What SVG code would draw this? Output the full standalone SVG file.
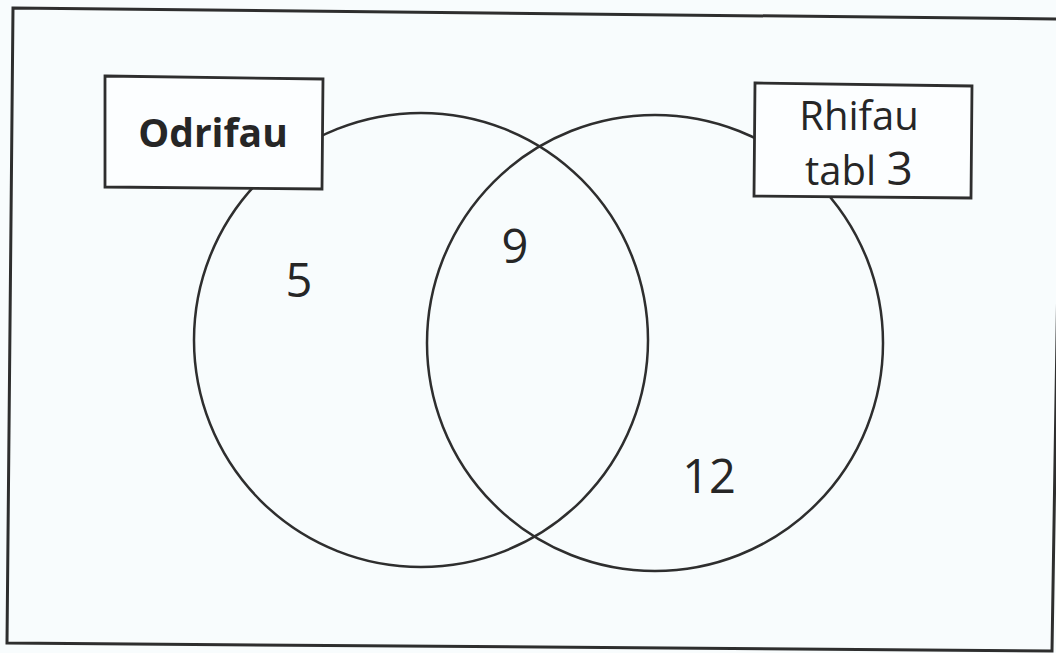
<svg xmlns="http://www.w3.org/2000/svg" width="1056" height="653" viewBox="0 0 1056 653">
<style>
.ln{fill:none;stroke:#2e2e2e;stroke-width:2.5}
.box{fill:#fcfeff;stroke:#2e2e2e;stroke-width:2.8}
.t{font-family:"Open Sans","Noto Sans",sans-serif;fill:#262626}
.num{font-size:47px}
</style>
<rect width="1056" height="653" fill="#f8fcfd"/>
<polygon class="ln" points="13,8 1062,19 1052,651 7,643" style="stroke-width:3"/>
<g id="connectors">
<circle class="ln" cx="421" cy="340" r="227"/>
<circle class="ln" cx="655" cy="343" r="228"/>
</g>
<g id="node-odrifau">
<polygon class="box" points="105,76 323,79 322,189 105,187"/>
<text class="t" x="213" y="147" text-anchor="middle" font-size="39" font-weight="bold">Odrifau</text>
</g>
<g id="node-rhifau">
<polygon class="box" points="755,83 972,86 971,198 754,196"/>
<text class="t" x="859" y="130" text-anchor="middle" font-size="40">Rhifau</text>
<text class="t" x="859" y="185" text-anchor="middle" font-size="40">tabl <tspan font-size="46">3</tspan></text>
</g>
<g id="labels">
<text class="t num" x="299" y="297" text-anchor="middle">5</text>
<text class="t num" x="515" y="263" text-anchor="middle">9</text>
<text class="t num" x="709" y="493" text-anchor="middle">12</text>
</g>
</svg>
